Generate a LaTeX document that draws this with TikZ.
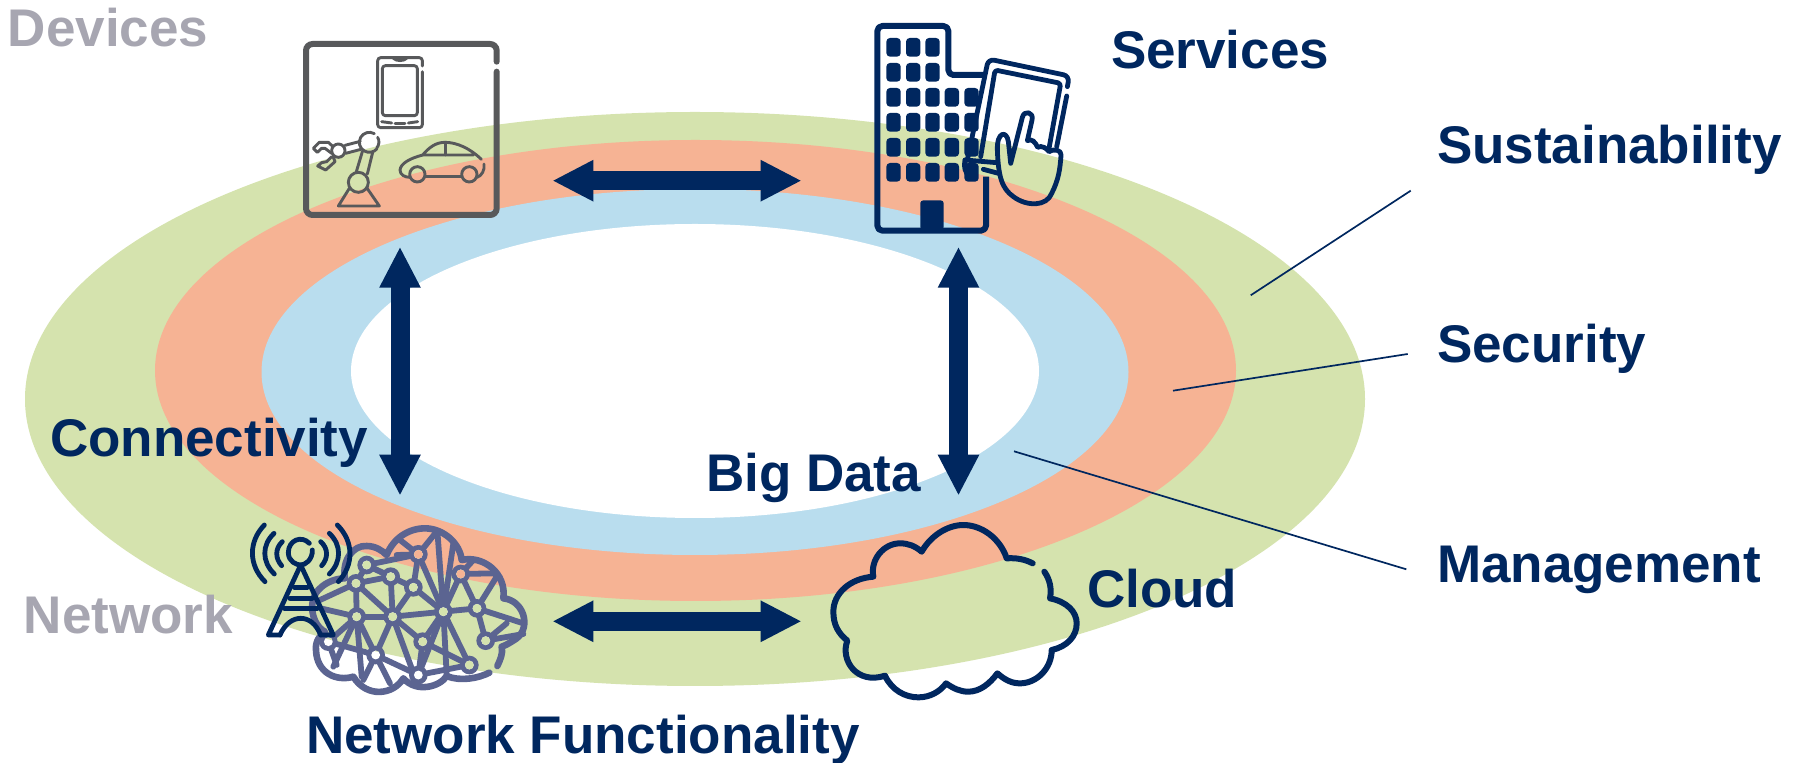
\documentclass[tikz,border=0pt]{standalone}
\usepackage{fontspec}
\setmainfont{Liberation Sans}
\usetikzlibrary{arrows.meta}
\definecolor{ringgreen}{HTML}{D5E3AE}
\definecolor{ringorange}{HTML}{F6B394}
\definecolor{ringblue}{HTML}{B9DDEE}
\definecolor{navy}{HTML}{00275F}
\definecolor{greytext}{HTML}{A7A6B1}
\definecolor{devgrey}{HTML}{58595B}
\definecolor{netblue}{HTML}{5B6491}
\newcommand{\bgrings}{%
  \fill[white] (0,300) rectangle (1800,763);
  \fill[ringgreen] (695,399) ellipse [x radius=670,y radius=287];
  \fill[ringorange] (695.5,370.5) ellipse [x radius=540.5,y radius=230.5];
  \fill[ringblue] (695,372) ellipse [x radius=433.5,y radius=183];
  \fill[white] (695,371) ellipse [x radius=344,y radius=147];
}
\tikzset{
  z/.style 2 args={x=0.166667pt,y=-0.166667pt,shift={(#1,#2)}},
  lbl/.style={anchor=base west,inner sep=0pt,outer sep=0pt,font=\fontsize{26.5}{30}\selectfont\bfseries,text=navy},
  greylbl/.style={lbl,text=greytext},
  dblarrow/.style={{Triangle[length=20.5pt,width=19.2pt]}-{Triangle[length=20.5pt,width=19.2pt]},line width=9.5pt,draw=navy},
  leader/.style={draw=navy,line width=0.85pt},
  devline/.style={draw=devgrey,line width=1.45pt,line cap=round,line join=round},
  navyline/.style={draw=navy,line width=2.4pt,line cap=round,line join=round},
  netline/.style={draw=netblue,line width=2.9pt,line cap=round,line join=round},
}
\begin{document}
\begin{tikzpicture}[x=0.5pt,y=-0.5pt]
\useasboundingbox (0,0) rectangle (1800,763);
\bgrings
% connector ends
\coordinate (devE) at (552.3,180.7);
\coordinate (svcW) at (801.7,180.7);
\coordinate (devS) at (400,246.7);
\coordinate (netN) at (400,495.7);
\coordinate (svcS) at (958.5,246.7);
\coordinate (cldN) at (958.5,495.7);
\coordinate (netE) at (552.3,621.3);
\coordinate (cldW) at (801.7,621.3);
\draw[dblarrow] (devE) -- (svcW);
\draw[dblarrow] (devS) -- (netN);
\draw[dblarrow] (svcS) -- (cldN);
\draw[dblarrow] (netE) -- (cldW);
% leaders
\coordinate (susA) at (1410.7,190.7);
\coordinate (susB) at (1250.7,295.3);
\coordinate (secA) at (1407.7,354);
\coordinate (secB) at (1173,390.7);
\coordinate (mgtA) at (1406.3,569.3);
\coordinate (mgtB) at (1014,451.3);
\draw[leader] (susA) -- (susB);
\draw[leader] (secA) -- (secB);
\draw[leader] (mgtA) -- (mgtB);
% labels
\node[greylbl] (tDevices) at (8,47) {Devices};
\node[greylbl] (tNetwork) at (24,634) {Network};
\node[lbl] (tServices) at (1111,69) {Services};
\node[lbl] (tSust) at (1437,164) {Sustainability};
\node[lbl] (tSec) at (1437,363) {Security};
\node[lbl] (tMgt) at (1437,583) {Management};
\node[lbl] (tCloud) at (1087,608) {Cloud};
\node[lbl] (tBig) at (706,492) {Big Data};
\node[lbl] (tConn) at (50,457) {Connectivity};
\node[lbl] (tNetF) at (306,754) {Network Functionality};
% devices icon
\begin{scope}[z={840}{60}]
  \draw[devgrey,line width=3pt,line cap=round,rounded corners=3.3pt] (650,125) -- (650,72) -- (78,72) -- (78,585) -- (650,585) -- (650,155);
  % phone
  \draw[devline,rounded corners=1.5pt] (427,138) -- (427,113) -- (293,113) -- (293,323) -- (427,323) -- (427,155);
  \draw[devline] (340,115) .. controls (350,124) and (370,124) .. (380,115);
  \draw[devline,rounded corners=1.5pt] (307,137) rectangle (412,287);
  \draw[devline] (305,305) -- (335,309);
  \draw[devline] (345,311) -- (375,311);
  \draw[devline] (385,309) -- (413,305);
  % robot
  \draw[devline] (208,505) -- (175,558) -- (298,558) -- (260,503);
  \draw[devline] (235,487) circle [radius=30];
  \draw[devline] (229,455) -- (247,395);
  \draw[devline] (262,462) -- (278,397);
  \draw[devline] (283,341) arc (-60:-320:30) (293,352) arc (-30:40:28);
  \draw[devline] (195,376) -- (241,364);
  \draw[devline] (197,400) -- (243,388);
  \draw[devline] (175,392) circle [radius=20];
  \draw[devline] (157,378) -- (145,367) -- (118,367) -- (100,385) -- (112,397) -- (125,385) -- (135,385) -- (155,400);
  \draw[devline] (160,412) -- (165,425) -- (137,450) -- (113,438) -- (125,428) -- (140,425) -- (155,410);
  % car
  \draw[devline] (604,418) .. controls (570,385) and (530,367) .. (495,367) .. controls (465,367) and (445,385) .. (428,405) -- (580,405);
  \draw[devline] (497,367) -- (497,405);
  \draw[devline] (428,405) .. controls (390,415) and (362,430) .. (360,450) .. controls (360,465) and (375,472) .. (390,472);
  \draw[devline] (412,463) circle [radius=23];
  \draw[devline] (568,463) circle [radius=23];
  \draw[devline] (435,470) -- (545,470);
  \draw[devline] (591,472) .. controls (605,468) and (615,450) .. (612,432);
\end{scope}
% services icon
\begin{scope}[z={2550}{30}]
  \draw[navy,line width=3pt,line join=round,rounded corners=2.5pt] (402,195) -- (295,195) -- (295,48) -- (82,48) -- (82,662) -- (408,662) -- (408,500);
  \foreach \yy in {84,159,234,309,384,459} \foreach \xx in {109,168,226}
    \fill[navy,rounded corners=1.8pt] (\xx,\yy) rectangle +(43,56);
  \foreach \yy in {234,309,384,459} \foreach \xx in {284,343}
    \fill[navy,rounded corners=1.8pt] (\xx,\yy) rectangle +(43,56);
  \fill[navy] (211,660) -- (211,577) [rounded corners=1.5pt] -- (211,571) -- (281,571) -- (281,660) -- cycle;
  % tablet
  \draw[navyline,rounded corners=3pt] (652,230) -- (658,198) -- (415,147) -- (352,450);
  \draw[navyline] (650,258) -- (620,410);
  \draw[navyline,rounded corners=1.5pt] (392,440) -- (435,180) -- (632,220) -- (597,415);
  \draw[navyline] (345,450) -- (440,458);
  \draw[navyline] (345,450) .. controls (340,470) and (345,490) .. (360,500);
  \draw[navyline] (400,478) -- (445,490);
  % hand
  \draw[navyline] (482,460) -- (517,322) .. controls (522,300) and (552,305) .. (546,330) -- (532,392)
     .. controls (545,385) and (555,395) .. (563,412) .. controls (575,405) and (590,415) .. (597,425)
     .. controls (610,415) and (635,420) .. (633,435) .. controls (630,480) and (625,510) .. (605,550)
     .. controls (590,590) and (530,590) .. (490,560) .. controls (455,535) and (445,500) .. (442,420)
     .. controls (440,365) and (470,360) .. (475,395) -- (482,460);
\end{scope}
% cloud icon
\begin{scope}[z={2430}{1530}]
  \draw[navy,line width=3pt,line cap=round,line join=round]
    (668,160) .. controls (645,148) and (620,143) .. (590,145)
    .. controls (570,85) and (515,45) .. (460,45)
    .. controls (410,45) and (360,80) .. (335,125)
    .. controls (315,108) and (295,100) .. (270,100)
    .. controls (220,100) and (180,150) .. (190,200)
    .. controls (120,205) and (70,250) .. (70,305)
    .. controls (70,345) and (85,370) .. (112,392)
    .. controls (90,450) and (140,525) .. (225,497)
    .. controls (245,540) and (285,562) .. (325,562)
    .. controls (360,562) and (390,545) .. (408,520)
    .. controls (430,535) and (450,545) .. (475,545)
    .. controls (510,545) and (540,520) .. (562,490)
    .. controls (585,510) and (605,520) .. (630,520)
    .. controls (680,520) and (725,475) .. (725,420)
    .. controls (770,410) and (800,380) .. (800,340)
    .. controls (800,305) and (770,275) .. (720,265)
    .. controls (725,235) and (720,210) .. (703,185);
\end{scope}
% network icon
\begin{scope}[z={690}{1530}]
  \foreach \n/\p in {a/{410,165},b/{565,133},c/{692,192},d/{378,220},e/{482,200},f/{550,232},g/{380,320},h/{488,320},i/{640,305},j/{741,295},k/{767,392},l/{578,395},m/{295,395},o/{437,435},q/{565,495},r/{718,465}}
    \coordinate (n\n) at (\p);
  \draw[netline,line width=3.3pt]
    (778,488) .. controls (745,505) and (690,515) .. (650,498)
    .. controls (630,530) and (560,550) .. (520,505)
    .. controls (490,555) and (410,565) .. (370,500)
    .. controls (320,515) and (260,490) .. (258,420)
    .. controls (255,395) and (270,375) .. (285,365)
    .. controls (245,345) and (230,270) .. (270,235)
    .. controls (290,215) and (320,205) .. (345,205)
    .. controls (335,150) and (370,105) .. (410,108)
    .. controls (435,108) and (455,120) .. (470,135)
    .. controls (490,85) and (535,55) .. (585,55)
    .. controls (640,55) and (690,100) .. (695,150)
    .. controls (760,135) and (830,190) .. (820,265)
    .. controls (880,270) and (905,350) .. (860,385)
    .. controls (845,395) and (830,405) .. (815,410)
    .. controls (820,430) and (810,450) .. (802,468);
  \foreach \s/\t in {a/d,a/e,a/b,d/e,d/g,e/f,e/h,f/b,f/h,f/i,b/i,c/i,c/j,i/j,i/h,i/l,i/r,g/h,h/o,l/h,m/o,o/q,q/r,g/m,g/o,l/q,l/r,j/k,q/i,a/e,h/d}
    \draw[netline] (n\s) -- (n\t);
  \draw[netline] (nb) -- (500,135) (nb) -- (510,90) (nb) -- (622,62) (ni) -- (622,62) (ni) -- (670,100);
  \draw[netline] (nc) -- (730,150) (nc) -- (790,190) (nj) -- (800,200);
  \draw[netline] (nj) -- (880,340) (nk) -- (830,340) (nk) -- (880,372) (nj) -- (850,330);
  \draw[netline] (nd) -- (270,270) (ng) -- (272,295) (ng) -- (310,470) (ng) -- (395,500);
  \draw[netline] (nm) -- (320,465) (no) -- (400,510) (no) -- (480,520) (nh) -- (545,475);
  \draw[netline] (ni) -- (650,495);
  \foreach \n in {a,b,c,d,e,f,g,h,i,j,k,l,m,o,q,r}
    \fill[netblue] (n\n) circle [radius=28];
\end{scope}
% holes of the network nodes show what lies behind
\foreach \n in {a,b,c,d,e,f,g,h,i,j,k,l,m,o,q,r} {
  \begin{scope}
    \clip (n\n) circle [radius=4.4];
    \bgrings
  \end{scope}
}
% tower
\begin{scope}[z={690}{1530}]
  \draw[navyline] (238,100) .. controls (215,75) and (175,90) .. (175,128) .. controls (175,155) and (200,165) .. (212,165) .. controls (225,165) and (248,150) .. (247,120);
  \draw[navyline] (157,95) .. controls (135,115) and (135,145) .. (155,167);
  \draw[navyline] (132,70) .. controls (95,105) and (95,155) .. (133,192);
  \draw[navyline] (103,45) .. controls (55,95) and (55,165) .. (105,215);
  \draw[navyline] (272,95) .. controls (295,115) and (295,145) .. (275,167);
  \draw[navyline] (298,70) .. controls (335,105) and (335,155) .. (298,192);
  \draw[navyline] (322,45) .. controls (372,95) and (372,165) .. (325,215);
  \draw[navyline] (212,165) -- (115,375) -- (150,375);
  \draw[navyline] (212,165) -- (310,375) -- (272,375);
  \draw[navyline] (193,232) -- (232,232);
  \draw[navyline] (180,265) -- (246,265);
  \draw[navyline] (163,295) -- (262,295);
  \draw[navyline] (150,375) .. controls (165,340) and (190,325) .. (212,325) .. controls (235,325) and (258,340) .. (272,375);
\end{scope}
\end{tikzpicture}
\end{document}
